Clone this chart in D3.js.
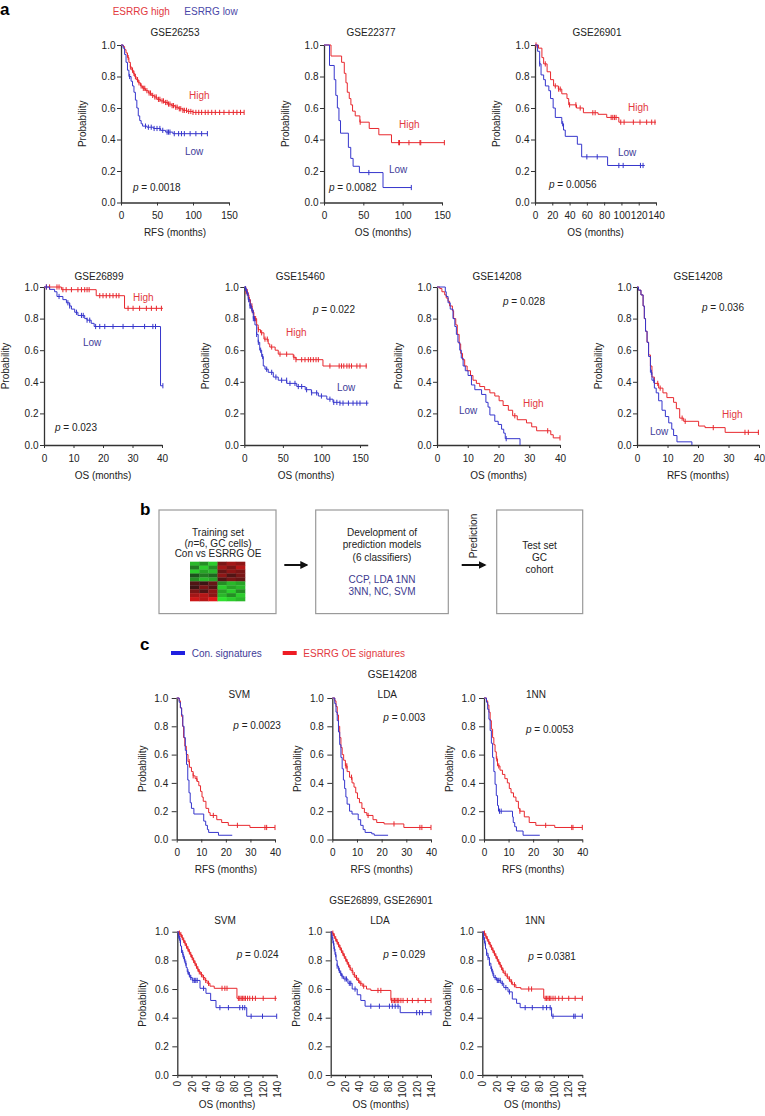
<!DOCTYPE html>
<html>
<head>
<meta charset="utf-8">
<script src="https://cdn.jsdelivr.net/npm/d3@7"></script>
<style>
  body { margin: 0; background: #fff; }
  svg text { font-family: "Liberation Sans", Arial, Helvetica, sans-serif; fill: #222; }
</style>
</head>
<body>
<svg id="fig" width="765" height="1116"></svg>
<script>
// ---- survival curves: [months, probability] steps, censor times ----
const gse26253High = [[0,1],[3,0.99],[5,0.97],[7,0.95],[9,0.92],[11,0.89],[13,0.86],[15,0.84],[17,0.82],[19,0.8],[21,0.78],[24,0.76],[27,0.74],[30,0.725],[34,0.71],[38,0.695],[42,0.68],[46,0.67],[50,0.655],[55,0.645],[60,0.635],[65,0.625],[70,0.615],[75,0.605],[80,0.595],[86,0.585],[92,0.578],[100,0.572],[171,0.572]];
const gse26253HighCens = [10,13,16,18,20,23,25,28,31,33,36,39,41,44,47,49,52,54,57,59,62,64,66,68,71,73,76,78,81,83,86,88,91,94,97,100,104,108,112,117,121,126,131,137,143,150,156,161,166,171];
const gse26253Low = [[0,1],[3,0.98],[5,0.94],[7,0.89],[9,0.84],[11,0.8],[14,0.77],[16,0.74],[18,0.7],[20,0.65],[22,0.6],[24,0.55],[26,0.52],[28,0.5],[30,0.485],[36,0.478],[45,0.47],[55,0.458],[62,0.447],[72,0.437],[120,0.437]];
const gse26253LowCens = [12,34,38,42,46,50,54,58,64,66,68,74,80,84,88,96,104,112,120];

const gse22377High = [[0,1],[8.9,0.93],[22.4,0.89],[25.8,0.82],[27.9,0.76],[29.6,0.7],[32.1,0.66],[34.2,0.62],[36.3,0.58],[39.7,0.55],[45.6,0.51],[57.5,0.47],[69.7,0.43],[85.8,0.38],[153,0.38]];
const gse22377HighCens = [46,95,96,108,122,123,153];
const gse22377Low = [[0,1],[7,0.87],[13,0.78],[15,0.68],[17,0.6],[19,0.52],[21,0.44],[31,0.35],[34,0.28],[37,0.23],[45,0.19],[75,0.095],[111,0.095]];
const gse22377LowCens = [57,111];

const gse26901High = [[0,1],[4,0.98],[8,0.92],[10,0.88],[14,0.83],[18,0.78],[21.5,0.74],[27,0.72],[31,0.69],[37,0.66],[39,0.62],[48,0.6],[56,0.57],[73,0.56],[83,0.54],[97,0.51],[140,0.51]];
const gse26901HighCens = [1.2,11.9,23.5,27.3,29.2,40,47.3,52.3,66.9,69.6,88.1,90,91.9,93.8,99.2,103.1,113.8,121.5,129.2,135,138.8];
const gse26901Low = [[0,1],[3,0.96],[5.4,0.88],[7,0.81],[10,0.78],[12,0.74],[16,0.71],[18,0.66],[21,0.6],[23.5,0.54],[31,0.5],[33,0.46],[35,0.42],[49,0.37],[54,0.29],[84,0.235],[127,0.235]];
const gse26901LowCens = [5.4,32,60,72,97,102,122,125];

const gse26899High = [[0,1],[5.9,0.983],[17.7,0.945],[27.3,0.865],[40.3,0.865]];
const gse26899HighCens = [0.8,1.9,4.4,5.1,6.4,7.5,9.3,11.5,12.7,13.8,14.6,15.3,18.9,20,21.1,22.3,23.4,24.5,25.4,28.5,30.2,32.4,34.7,36.4,38.1,39.8];
const gse26899Low = [[0,1],[1.9,0.985],[3.6,0.97],[4.4,0.94],[6.4,0.92],[7.6,0.9],[8.7,0.88],[9.3,0.86],[10.4,0.84],[11.5,0.82],[13.8,0.8],[14.6,0.79],[16,0.77],[17,0.75],[39.5,0.375],[40.3,0.375]];
const gse26899LowCens = [0.8,5.1,8.1,8.7,11,12.7,13.3,14.6,15.5,17.5,18.9,20.6,23.4,26.8,30.2,34.1,36.9,37.8,40.3];

const gse15460High = [[0,1],[2,0.97],[4,0.95],[6,0.92],[8,0.88],[10,0.84],[12.5,0.8],[16,0.76],[18,0.73],[21,0.71],[25.5,0.67],[31,0.64],[33,0.62],[40,0.6],[44,0.575],[63.5,0.555],[67,0.54],[102,0.5],[159,0.5]];
const gse15460HighCens = [2.2,3.9,5.2,6.5,8.2,9.9,11.7,13,14.7,18.2,22.5,26.8,29.8,35.5,46.3,54.9,64.4,67,74.4,78.7,83,86,89.5,93,96,111,123,126,129,133,136,139,146,150,158];
const gse15460Low = [[0,1],[1,0.99],[3,0.96],[5,0.92],[7.3,0.88],[9.5,0.85],[11.7,0.8],[13.8,0.76],[16,0.7],[18,0.65],[20,0.6],[22.5,0.56],[24.6,0.5],[26.8,0.48],[31,0.46],[37.6,0.43],[44,0.41],[55,0.39],[68,0.37],[79,0.35],[87,0.33],[96,0.31],[107,0.29],[115,0.27],[124,0.265],[161,0.265]];
const gse15460LowCens = [1.7,3.9,5.6,7.3,8.6,10.4,11.7,13,16,18.2,21.2,23.8,29,35.5,41,48.4,54.9,59.2,65.7,70,74.4,80.8,87.3,93.8,100,111,116,120,124,128,135,141,146,150,158.7];

const gse14208OsHigh = [[0,1],[0.9,0.99],[1.6,0.97],[2.5,0.95],[3,0.93],[3.6,0.91],[4.1,0.88],[5,0.85],[5.4,0.8],[6.1,0.76],[6.6,0.7],[7.2,0.64],[7.7,0.58],[8.3,0.54],[9,0.5],[9.8,0.47],[10.9,0.44],[11.7,0.41],[12.8,0.39],[13.9,0.37],[15.5,0.35],[17.2,0.33],[18.8,0.31],[20.2,0.28],[21.5,0.25],[23.2,0.22],[24.6,0.185],[26.1,0.16],[29.1,0.14],[30.8,0.115],[32.4,0.09],[37,0.065],[37.8,0.045],[40,0.045]];
const gse14208OsHighCens = [25.3,36,40];
const gse14208OsLow = [[0,1],[2.7,0.97],[3,0.94],[3.6,0.9],[4.3,0.86],[5.2,0.8],[5.8,0.75],[6.3,0.7],[6.8,0.65],[7.4,0.6],[7.9,0.55],[8.5,0.5],[9.2,0.47],[10.1,0.44],[11.2,0.38],[12.3,0.35],[14.5,0.32],[15.9,0.27],[16.6,0.24],[17.2,0.19],[18.8,0.15],[19.9,0.13],[21,0.1],[21.7,0.075],[22.2,0.04],[27,0]];
const gse14208OsLowCens = [22.5];

const gse14208RfsHigh = [[0,1],[0.5,0.98],[1.3,0.95],[2,0.88],[2.4,0.8],[2.8,0.72],[3.3,0.65],[3.8,0.57],[4.4,0.5],[4.9,0.43],[5.7,0.39],[7.1,0.36],[8.5,0.33],[9.8,0.3],[12,0.27],[12.9,0.23],[14,0.17],[15.3,0.15],[20.2,0.12],[22.3,0.11],[28.9,0.08],[40,0.08]];
const gse14208RfsHighCens = [6.8,7.6,14.8,15.8,25,35.4,36.5,39.8];
const gse14208RfsLow = [[0,1],[0.5,0.98],[1.3,0.95],[2,0.88],[2.4,0.8],[2.8,0.72],[3.3,0.65],[3.8,0.56],[4.4,0.46],[4.9,0.41],[5.7,0.36],[6.3,0.33],[7.1,0.28],[8.2,0.22],[9.3,0.18],[10.4,0.14],[11.4,0.1],[12,0.06],[13.1,0.02],[18,0]];
const gse14208RfsLowCens = [4.7,5.5];

// panel c, GSE14208 RFS by classifier
const svmRfsOe = [[0,1],[1,0.98],[1.5,0.93],[2,0.87],[2.4,0.8],[2.8,0.72],[3.3,0.66],[3.9,0.6],[4.6,0.55],[5.2,0.51],[6,0.48],[6.7,0.45],[7.5,0.43],[8.3,0.41],[9,0.38],[9.7,0.34],[10.3,0.3],[10.8,0.27],[11.9,0.22],[13,0.19],[13.6,0.17],[16.3,0.14],[18.3,0.12],[21,0.1],[29.8,0.085],[40,0.085]];
const svmRfsOeCens = [5.1,6.7,8.2,14.9,24.7,35.9,36.6,40];
const svmRfsCon = [[0,1],[1,0.97],[1.5,0.93],[2,0.88],[2.5,0.8],[3,0.72],[3.5,0.63],[4,0.53],[4.5,0.42],[5,0.33],[5.5,0.26],[6,0.22],[7,0.18],[11,0.13],[11.8,0.1],[12.5,0.07],[13,0.05],[17,0.03],[22.6,0.03]];
const svmRfsConCens = [];
const ldaRfsOe = [[0,1],[1,0.98],[1.5,0.94],[2,0.88],[2.5,0.8],[3,0.72],[3.5,0.65],[4,0.6],[4.6,0.56],[5.3,0.52],[6,0.48],[7,0.44],[8,0.4],[8.8,0.37],[9.5,0.33],[10.2,0.29],[11,0.26],[12,0.22],[13,0.19],[14,0.17],[16.5,0.14],[18,0.12],[21,0.11],[29,0.085],[40,0.085]];
const ldaRfsOeCens = [5.5,5.9,7.8,14.5,25,35.5,36.3,40];
const ldaRfsCon = [[0,1],[1,0.96],[1.5,0.9],[2,0.84],[2.5,0.76],[3,0.67],[3.5,0.58],[4,0.5],[4.5,0.42],[5,0.36],[5.5,0.3],[6,0.25],[7,0.2],[8,0.18],[10.5,0.14],[11.5,0.1],[12.5,0.07],[13.3,0.05],[16,0.04],[17,0.03],[22.6,0.03]];
const ldaRfsConCens = [];
const nn1RfsOe = [[0,1],[1,0.98],[1.5,0.95],[2,0.9],[2.5,0.84],[3,0.78],[3.5,0.72],[4,0.67],[4.5,0.62],[5,0.57],[5.5,0.52],[6.5,0.49],[7.5,0.46],[8.5,0.43],[9.5,0.4],[10.3,0.36],[11,0.33],[12,0.3],[13,0.27],[14,0.22],[14.6,0.2],[16.4,0.16],[18.4,0.12],[21.1,0.1],[28.8,0.085],[40,0.085]];
const nn1RfsOeCens = [5.2,6,14.6,25.1,35.7,36.2,40];
const nn1RfsCon = [[0,1],[1,0.97],[1.5,0.92],[2,0.85],[2.5,0.77],[3,0.68],[3.5,0.58],[4,0.48],[4.5,0.39],[5,0.31],[5.5,0.24],[5.9,0.2],[11.6,0.16],[11.9,0.12],[12.5,0.09],[13.2,0.06],[15.9,0.03],[22.7,0.03]];
const nn1RfsConCens = [6.3,7];

// panel c, GSE26899 + GSE26901 OS by classifier
const svmOsOe = [[0,1],[2,0.99],[4,0.98],[6,0.96],[8,0.94],[10,0.92],[12,0.9],[14,0.88],[16,0.86],[18,0.84],[20,0.82],[22,0.8],[24,0.78],[26,0.76],[28,0.74],[30,0.72],[33,0.7],[36,0.68],[39,0.66],[42,0.64],[46,0.62],[52,0.605],[84,0.535],[140,0.535]];
const svmOsOeCens = [3,5,7,9,11,13,15,17,19,21,23,25,27,29,31,34,37,40,44,63,67,70,86,88,90,92,94,96,99,102,106,110,121,138];
const svmOsCon = [[0,1],[1.5,0.97],[3,0.94],[4.5,0.9],[6,0.87],[7.5,0.84],[9,0.81],[10.8,0.78],[12.5,0.75],[14,0.72],[16,0.7],[18,0.68],[21,0.66],[32,0.605],[40.4,0.57],[47,0.52],[54.5,0.47],[97.8,0.41],[140,0.41]];
const svmOsConCens = [2,4,6,8,10,12,15,17,19,22,24,26,28,37,60,72,88,92,95,104,120,140];
const ldaOsOe = [[0,1],[2,0.99],[4,0.97],[6,0.95],[8,0.93],[10,0.91],[12,0.89],[14,0.87],[16,0.85],[18,0.83],[20,0.81],[22,0.79],[24,0.77],[26,0.75],[28,0.73],[31,0.7],[34,0.68],[37,0.66],[40,0.64],[44,0.62],[50,0.6],[56,0.59],[84,0.52],[140,0.52]];
const ldaOsOeCens = [3,5,7,9,11,13,15,17,19,21,23,25,27,30,33,36,39,42,46,66,70,85,87,89,91,93,95,98,101,107,114,122,132,140];
const ldaOsCon = [[0,1],[1.5,0.96],[3,0.92],[4.5,0.88],[6,0.84],[7.5,0.8],[9,0.76],[11,0.73],[13,0.71],[15,0.69],[18,0.67],[24,0.64],[30,0.6],[37,0.56],[42,0.52],[48,0.48],[97,0.435],[140,0.435]];
const ldaOsConCens = [2,4,5,7,9,12,14,16,20,22,26,28,34,56,68,82,86,90,94,120,124,128,140];
const nn1OsOe = [[0,1],[2,0.99],[4,0.97],[6,0.95],[8,0.93],[10,0.91],[12,0.89],[14,0.87],[16,0.85],[18,0.83],[20,0.81],[22,0.79],[24,0.77],[26,0.75],[28,0.73],[30,0.71],[33,0.69],[36,0.67],[39,0.65],[42,0.63],[47,0.61],[54,0.6],[86,0.535],[140,0.535]];
const nn1OsOeCens = [3,5,7,9,11,13,15,17,19,21,23,25,27,29,32,35,38,41,45,65,69,88,90,92,94,96,99,102,107,112,121,130,140];
const nn1OsCon = [[0,1],[1.5,0.96],[3,0.92],[4.5,0.88],[6,0.85],[8,0.82],[10,0.78],[12,0.74],[14,0.71],[16,0.68],[20,0.66],[26,0.64],[30,0.61],[36,0.58],[42,0.53],[48,0.5],[53,0.47],[97,0.41],[140,0.41]];
const nn1OsConCens = [2,4,6,8,10,13,15,18,21,23,25,28,33,38,60,70,85,90,95,99,128,130,140];

// tick labels
const probTicks = [0, 0.2, 0.4, 0.6, 0.8, 1.0];
const ticks150 = [0, 50, 100, 150];
const ticks140 = [0, 20, 40, 60, 80, 100, 120, 140];
const ticks40 = [0, 10, 20, 30, 40];

// heatmap in the training-set box (left 3 = Con, right 3 = ESRRG OE)
const heatValues = [
  [-0.8,-0.6,-0.9, 0.5, 0.7, 0.6],
  [-0.5,-0.9,-0.6, 0.7, 0.5, 0.8],
  [-0.9,-0.7,-0.8, 0.4, 0.6, 0.5],
  [-0.3,-0.5,-0.4, 0.6, 0.3, 0.5],
  [-0.6,-0.8,-0.7, 0.3, 0.5, 0.4],
  [ 0.3, 0.2, 0.4,-0.6,-0.8,-0.7],
  [ 0.2, 0.5, 0.3,-0.9,-0.7,-0.8],
  [ 0.5, 0.3, 0.6,-0.7,-0.9,-0.6],
  [ 0.7, 0.8, 0.6,-0.8,-0.6,-0.9],
  [ 0.9, 0.8, 1.0,-1.0,-0.9,-0.8]
];

const RED = "#e8282e", BLUE = "#3636cc";
const RED_TXT = "#e23a3f", BLUE_TXT = "#3e3b98";

const svg = d3.select("#fig");

function survAt(curve, t) {
  let s = curve[0][1];
  for (const d of curve) { if (d[0] <= t) s = d[1]; }
  return s;
}

function pText(sel, value) {
  sel.append("tspan").attr("font-style", "italic").text("p");
  sel.append("tspan").text(" = " + value);
}

function kmPlot(c) {
  const g = svg.append("g").attr("transform", `translate(${c.ox},${c.oy})`);
  const x = d3.scaleLinear().domain([0, c.xmax]).range([0, c.w]);
  const y = d3.scaleLinear().domain([0, 1]).range([c.h, 0]);

  const ya = g.append("g")
    .call(d3.axisLeft(y).tickValues(probTicks).tickFormat(d3.format(".1f"))
      .tickSize(c.ytick).tickSizeOuter(0).tickPadding(c.ypad));
  const xa = g.append("g").attr("transform", `translate(0,${c.h})`)
    .call(d3.axisBottom(x).tickValues(c.ticks).tickSize(3).tickSizeOuter(0).tickPadding(6.5));
  [ya, xa].forEach(a => {
    a.select(".domain").attr("stroke", "#333").attr("stroke-width", 1.3);
    a.selectAll(".tick line").attr("stroke", "#333").attr("stroke-width", 1);
    a.selectAll("text").attr("font-size", 10).attr("fill", "#222");
  });
  if (c.rotate) {
    xa.selectAll("text").attr("transform", "rotate(-90)")
      .attr("text-anchor", "end").attr("x", -6).attr("y", 0).attr("dy", "0.35em");
  }

  g.append("text").attr("transform", `translate(${c.ylabX},${c.h / 2}) rotate(-90)`)
    .attr("text-anchor", "middle").attr("font-size", 10).text("Probability");
  g.append("text").attr("x", c.w / 2).attr("y", c.h + c.xlabY)
    .attr("text-anchor", "middle").attr("font-size", 10).text(c.xlab);
  g.append("text").attr("x", c.tdx).attr("y", c.tdy)
    .attr("text-anchor", "middle").attr("font-size", 10).text(c.title);

  const line = d3.line().x(d => x(d[0])).y(d => y(d[1])).curve(d3.curveStepAfter);
  [[c.hi, c.hiC, RED], [c.lo, c.loC, BLUE]].forEach(([data, cens, col]) => {
    g.append("path").datum(data).attr("d", line)
      .attr("fill", "none").attr("stroke", col).attr("stroke-width", 1);
    g.selectAll(null).data(cens).join("line")
      .attr("x1", t => x(t)).attr("x2", t => x(t))
      .attr("y1", t => y(survAt(data, t)) - 2.6).attr("y2", t => y(survAt(data, t)) + 2.6)
      .attr("stroke", col).attr("stroke-width", 1);
  });

  if (c.highPos) g.append("text").attr("x", c.highPos[0]).attr("y", c.highPos[1])
    .attr("font-size", 10).style("fill", RED_TXT).text("High");
  if (c.lowPos) g.append("text").attr("x", c.lowPos[0]).attr("y", c.lowPos[1])
    .attr("font-size", 10).style("fill", BLUE_TXT).text("Low");
  g.append("text").attr("x", c.pPos[0]).attr("y", c.pPos[1]).attr("font-size", 10)
    .call(pText, c.pv);
}

// ---- panel a ----
const aStyle = { ytick: 4, ypad: 1.5, ylabX: -35.5, xlabY: 33.5 };
const panelA = [
  { ox: 121, oy: 45, w: 108, h: 157.5, xmax: 150, ticks: ticks150, title: "GSE26253", tdx: 54, tdy: -9.5, xlab: "RFS (months)",
    hi: gse26253High, hiC: gse26253HighCens, lo: gse26253Low, loC: gse26253LowCens, pv: "0.0018", pPos: [12, 145.5], highPos: [68, 53.5], lowPos: [64, 109.5] },
  { ox: 324, oy: 45, w: 118, h: 157.5, xmax: 150, ticks: ticks150, title: "GSE22377", tdx: 47, tdy: -9.5, xlab: "OS (months)",
    hi: gse22377High, hiC: gse22377HighCens, lo: gse22377Low, loC: gse22377LowCens, pv: "0.0082", pPos: [5, 145.5], highPos: [75, 82.5], lowPos: [65, 127.5] },
  { ox: 535, oy: 45, w: 121, h: 157.5, xmax: 140, ticks: ticks140, title: "GSE26901", tdx: 62, tdy: -9.5, xlab: "OS (months)",
    hi: gse26901High, hiC: gse26901HighCens, lo: gse26901Low, loC: gse26901LowCens, pv: "0.0056", pPos: [14, 142.5], highPos: [93, 65.5], lowPos: [83, 110.5] },
  { ox: 44, oy: 287, w: 118, h: 158, xmax: 40, ticks: ticks40, title: "GSE26899", tdx: 55, tdy: -7.5, xlab: "OS (months)",
    hi: gse26899High, hiC: gse26899HighCens, lo: gse26899Low, loC: gse26899LowCens, pv: "0.023", pPos: [11, 143.5], highPos: [89, 13.5], lowPos: [39, 58.5] },
  { ox: 244.3, oy: 287, w: 123.4, h: 158, xmax: 160, ticks: ticks150, title: "GSE15460", tdx: 56, tdy: -7.5, xlab: "OS (months)",
    hi: gse15460High, hiC: gse15460HighCens, lo: gse15460Low, loC: gse15460LowCens, pv: "0.022", pPos: [68.7, 25.5], highPos: [41.7, 48.5], lowPos: [92.7, 103.5] },
  { ox: 437, oy: 287, w: 123, h: 158, xmax: 40, ticks: ticks40, title: "GSE14208", tdx: 60, tdy: -7.5, xlab: "OS (months)",
    hi: gse14208OsHigh, hiC: gse14208OsHighCens, lo: gse14208OsLow, loC: gse14208OsLowCens, pv: "0.028", pPos: [66, 17.5], highPos: [86, 119.5], lowPos: [22, 126.5] },
  { ox: 637, oy: 287, w: 122, h: 158, xmax: 40, ticks: ticks40, title: "GSE14208", tdx: 61, tdy: -7.5, xlab: "RFS (months)",
    hi: gse14208RfsHigh, hiC: gse14208RfsHighCens, lo: gse14208RfsLow, loC: gse14208RfsLowCens, pv: "0.036", pPos: [65, 23.5], highPos: [85, 130.5], lowPos: [13, 147.5] }
];
panelA.forEach(p => kmPlot(Object.assign({}, aStyle, p)));

svg.append("text").attr("x", 0).attr("y", 15).attr("font-size", 17).attr("font-weight", "bold").style("fill", "#000").text("a");
svg.append("text").attr("x", 112.7).attr("y", 15.2).attr("font-size", 10).style("fill", RED_TXT).text("ESRRG high");
svg.append("text").attr("x", 184.3).attr("y", 15.2).attr("font-size", 10).style("fill", "#4a47a8").text("ESRRG low");

// ---- panel b ----
svg.append("text").attr("x", 140).attr("y", 515).attr("font-size", 17).attr("font-weight", "bold").style("fill", "#000").text("b");
const boxes = [[159, 276], [315.7, 448.3], [496.7, 582.7]];
svg.selectAll(null).data(boxes).join("rect")
  .attr("x", d => d[0]).attr("y", 510).attr("width", d => d[1] - d[0]).attr("height", 103.6)
  .attr("fill", "none").attr("stroke", "#9a9a9a").attr("stroke-width", 1.2);

function centerLines(cx, lines) {
  lines.forEach(([txt, yy, col]) => {
    const t = svg.append("text").attr("x", cx).attr("y", yy).attr("text-anchor", "middle")
      .attr("font-size", 10).style("fill", col || "#222");
    if (Array.isArray(txt)) txt.forEach(([s, it]) => t.append("tspan").attr("font-style", it ? "italic" : null).text(s));
    else t.text(txt);
  });
}
centerLines(218, [["Training set", 536], [[["(", 0], ["n", 1], ["=6, GC cells)", 0]], 546.5], ["Con vs ESRRG OE", 557]]);
centerLines(382, [["Development of", 536], ["prediction models", 548], ["(6 classifiers)", 560.5],
  ["CCP, LDA 1NN", 583, "#3d3a8f"], ["3NN, NC, SVM", 595, "#3d3a8f"]]);
centerLines(539.5, [["Test set", 549], ["GC", 561], ["cohort", 573]]);

const heatColor = d3.scaleLinear().domain([-1, 0, 1]).range(["#2fe02f", "#141414", "#e01818"]);
const hx = d3.scaleBand().domain(d3.range(heatValues[0].length)).range([190, 245]);
const hy = d3.scaleBand().domain(d3.range(heatValues.length)).range([561.7, 601]);
heatValues.forEach((row, r) => {
  svg.selectAll(null).data(row).join("rect")
    .attr("x", (v, c) => hx(c)).attr("y", hy(r))
    .attr("width", hx.bandwidth() + 0.3).attr("height", hy.bandwidth() + 0.3)
    .attr("fill", v => heatColor(v));
});

svg.append("defs").append("marker").attr("id", "arr").attr("viewBox", "0 0 10 10")
  .attr("refX", 8).attr("refY", 5).attr("markerWidth", 4).attr("markerHeight", 4).attr("orient", "auto")
  .append("path").attr("d", "M0,0L10,5L0,10z").attr("fill", "#111");
[[284.3, 306.7], [461.7, 485]].forEach(([a, b]) => {
  svg.append("line").attr("x1", a).attr("x2", b).attr("y1", 565).attr("y2", 565)
    .attr("stroke", "#111").attr("stroke-width", 2).attr("marker-end", "url(#arr)");
});
svg.append("text").attr("transform", "translate(477,536) rotate(-90)").attr("text-anchor", "middle")
  .attr("font-size", 10).text("Prediction");

// ---- panel c ----
svg.append("text").attr("x", 140).attr("y", 649.5).attr("font-size", 17).attr("font-weight", "bold").style("fill", "#000").text("c");
svg.append("rect").attr("x", 171).attr("y", 651).attr("width", 14).attr("height", 4).attr("fill", "#2020e0");
svg.append("text").attr("x", 191.7).attr("y", 656.5).attr("font-size", 10).style("fill", BLUE_TXT).text("Con. signatures");
svg.append("rect").attr("x", 282.7).attr("y", 651).attr("width", 14).attr("height", 4).attr("fill", "#ee1c24");
svg.append("text").attr("x", 303.3).attr("y", 656.5).attr("font-size", 10).style("fill", RED_TXT).text("ESRRG OE signatures");
svg.append("text").attr("x", 392.3).attr("y", 677.5).attr("text-anchor", "middle").attr("font-size", 10).text("GSE14208");
svg.append("text").attr("x", 381).attr("y", 903.5).attr("text-anchor", "middle").attr("font-size", 10).text("GSE26899, GSE26901");

const cStyle = { ytick: 5, ypad: 3.5, ylabX: -31, xlabY: 33 };
const panelC = [
  { ox: 176.7, oy: 698, w: 98.3, h: 141.5, xmax: 40, ticks: ticks40, title: "SVM", tdx: 62.6, tdy: -0.5, xlab: "RFS (months)",
    hi: svmRfsOe, hiC: svmRfsOeCens, lo: svmRfsCon, loC: svmRfsConCens, pv: "0.0023", pPos: [56.6, 30.5] },
  { ox: 332.3, oy: 698, w: 98.7, h: 141.5, xmax: 40, ticks: ticks40, title: "LDA", tdx: 55, tdy: -0.5, xlab: "RFS (months)",
    hi: ldaRfsOe, hiC: ldaRfsOeCens, lo: ldaRfsCon, loC: ldaRfsConCens, pv: "0.003", pPos: [51, 23] },
  { ox: 484, oy: 698, w: 98.3, h: 141.5, xmax: 40, ticks: ticks40, title: "1NN", tdx: 52, tdy: -0.5, xlab: "RFS (months)",
    hi: nn1RfsOe, hiC: nn1RfsOeCens, lo: nn1RfsCon, loC: nn1RfsConCens, pv: "0.0053", pPos: [42, 34.5] },
  { ox: 177.3, oy: 931.7, w: 99.4, h: 143.3, xmax: 140, ticks: ticks140, rotate: true, title: "SVM", tdx: 47.7, tdy: -8.2, xlab: "OS (months)",
    hi: svmOsOe, hiC: svmOsOeCens, lo: svmOsCon, loC: svmOsConCens, pv: "0.024", pPos: [59.4, 26.8] },
  { ox: 330.7, oy: 931.7, w: 100.3, h: 143.3, xmax: 140, ticks: ticks140, rotate: true, title: "LDA", tdx: 49.3, tdy: -8.2, xlab: "OS (months)",
    hi: ldaOsOe, hiC: ldaOsOeCens, lo: ldaOsCon, loC: ldaOsConCens, pv: "0.029", pPos: [52.6, 26.8] },
  { ox: 482.3, oy: 931.7, w: 100, h: 143.3, xmax: 140, ticks: ticks140, rotate: true, title: "1NN", tdx: 52.7, tdy: -8.2, xlab: "OS (months)",
    hi: nn1OsOe, hiC: nn1OsOeCens, lo: nn1OsCon, loC: nn1OsConCens, pv: "0.0381", pPos: [46, 28.8] }
];
panelC.forEach(p => kmPlot(Object.assign({}, cStyle, p)));
</script>
</body>
</html>
